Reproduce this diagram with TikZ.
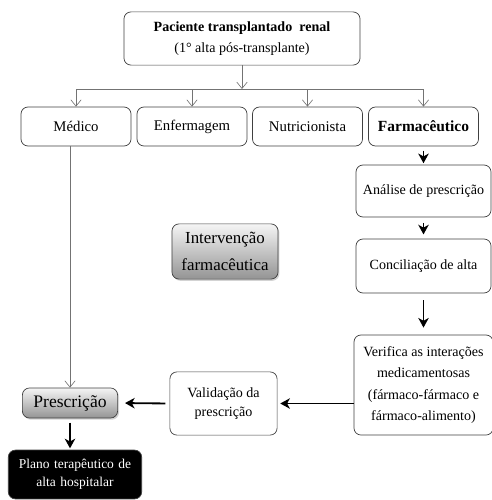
\documentclass[tikz,border=0pt]{standalone}
\usepackage{fontspec}
\setmainfont{Liberation Serif}
\usetikzlibrary{arrows.meta,positioning,calc,shadows}

\begin{document}
\begin{tikzpicture}[x=0.025cm,y=-0.025cm,
  font=\fontsize{10}{15}\selectfont,
  box/.style={rounded corners=5pt,draw=black!75,fill=white,align=center,
    line width=0.5pt},
  rowbox/.style={box,minimum width=2.75cm,minimum height=0.975cm,
    font=\fontsize{10.5}{13}\selectfont},
  pharm/.style={box,minimum width=3.375cm},
  shadebox/.style={box,top color=black!4,bottom color=black!42,
    drop shadow={opacity=0.35,shadow xshift=1pt,shadow yshift=-1.2pt}},
  grayline/.style={draw=black!55,line width=0.45pt},
  grayarr/.style={grayline,-{Straight Barb[length=1.6mm,width=2.6mm]}},
  arr/.style={-{Stealth[length=2.4mm,width=2.6mm,inset=0.7mm]},
    line width=1.3pt}]

\useasboundingbox (0,0) rectangle (492,500);

\node[box,minimum width=5.9cm,minimum height=1.33cm,
  font=\fontsize{10}{15}\selectfont] (patient) at (242,38.5)
  {\textbf{Paciente transplantado\ \ renal}\\(1° alta pós-transplante)};
\coordinate (bus) at (242,89);

\node[rowbox] (medico) at (76,126.5) {Médico};
\node[rowbox] (enferm) at (192,126.5) {Enfermagem};
\node[rowbox] (nutri) at (307.5,126.5) {Nutricionista};
\node[rowbox,font=\bfseries\fontsize{11}{13}\selectfont] (farma)
  at (423.5,126.5) {Farmacêutico};

\node[pharm,minimum height=1.3cm] (analise) at (423.5,191)
  {Análise de prescrição};
\node[pharm,minimum height=1.35cm] (concil) at (423.5,266)
  {Conciliação de alta};
\node[box,minimum width=3.475cm,minimum height=2.5cm] (verif)
  at (423.5,385) {Verifica as interações\\medicamentosas\\
  (fármaco-fármaco e\\fármaco-alimento)};
\node[box,minimum width=2.68cm,minimum height=1.58cm,
  font=\fontsize{10}{14}\selectfont] (valid) at (223.5,403.5)
  {Validação da\\prescrição};
\node[shadebox,minimum width=2.38cm,minimum height=0.75cm,
  font=\fontsize{12.5}{14}\selectfont] (presc) at (70,403) {Prescrição};
\node[shadebox,minimum width=2.65cm,minimum height=1.38cm,
  font=\fontsize{12}{19}\selectfont] (interv) at (225,251.5)
  {Intervenção\\farmacêutica};
\node[box,fill=black,text=white,text width=3.1cm,minimum height=1.22cm,
  font=\fontsize{9.6}{13}\selectfont] (plano) at (75,474.5)
  {Plano terapêutico de\\alta hospitalar};

% distribution to the team
\draw[grayarr] (patient.south) -- (bus);
\draw[grayline] (medico.north |- bus) -- (farma.north |- bus);
\foreach \n in {medico,enferm,nutri,farma}
  \draw[grayarr] (\n.north |- bus) -- (\n.north);
\draw[grayarr] (presc.north |- medico.south) -- (presc.north);

% pharmaceutical path
\draw[arr,shorten <=3pt,shorten >=1pt] (farma.south) -- (analise.north);
\draw[arr,shorten <=4pt,shorten >=3pt] (analise.south) -- (concil.north);
\draw[arr,shorten <=5pt,shorten >=5pt] (concil.south) -- (verif.north);
\draw[arr,shorten >=2pt] (valid.east -| verif.west) -- (valid.east);
\draw[arr,shorten <=3pt,shorten >=5pt] (valid.west) -- (presc.east);
\draw[arr,shorten <=3pt,shorten >=1pt] (presc.south)
  -- (presc.south |- plano.north);
\end{tikzpicture}
\end{document}
